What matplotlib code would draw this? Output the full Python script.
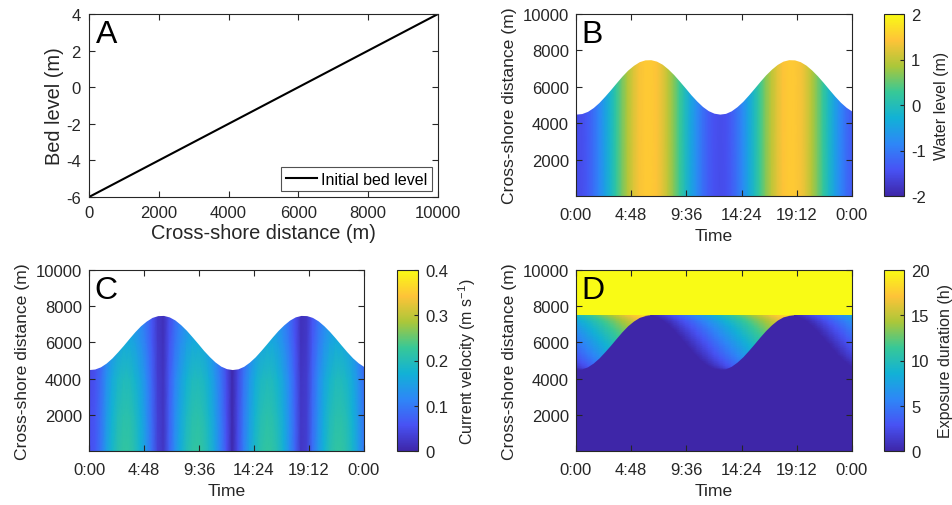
import numpy as np
import matplotlib
matplotlib.use('Agg')
import matplotlib.pyplot as plt
from matplotlib.colors import LinearSegmentedColormap

plt.rcParams['font.family'] = ['Liberation Sans', 'DejaVu Sans']
plt.rcParams['mathtext.fontset'] = 'custom'
plt.rcParams['mathtext.rm'] = 'Liberation Sans'
plt.rcParams['mathtext.it'] = 'Liberation Sans:italic'
plt.rcParams['axes.unicode_minus'] = False

TXT = '#262626'

# MATLAB parula, sampled at 8 points
parula = LinearSegmentedColormap.from_list('parula', [
    (0.2422, 0.1504, 0.6603), (0.2810, 0.3228, 0.9579),
    (0.1786, 0.5289, 0.9682), (0.0689, 0.6948, 0.8394),
    (0.2161, 0.7843, 0.5923), (0.6720, 0.7793, 0.2227),
    (0.9970, 0.7659, 0.2199), (0.9769, 0.9839, 0.0805)])

# panel A: initial profile
bed_x = [0, 10000]
bed_z = [-6, 4]

hours = np.arange(0, 24.01, 0.5)
water_level = [-1.50, -1.47, -1.35, -1.14, -0.86, -0.52, -0.16, 0.22, 0.59, 0.92,
               1.18, 1.38, 1.48, 1.49, 1.41, 1.24, 0.98, 0.67, 0.31, -0.06,
               -0.44, -0.78, -1.08, -1.31, -1.45, -1.50, -1.46, -1.32, -1.09, -0.80,
               -0.45, -0.08, 0.30, 0.66, 0.97, 1.23, 1.41, 1.49, 1.48, 1.38,
               1.19, 0.92, 0.60, 0.24, -0.14, -0.51, -0.85, -1.13, -1.34]
current_speed = [0.05, 0.06, 0.09, 0.137, 0.172, 0.197, 0.209, 0.208, 0.193, 0.166,
                 0.129, 0.084, 0.033, 0.02, 0.071, 0.119, 0.158, 0.188, 0.205, 0.21,
                 0.201, 0.179, 0.146, 0.103, 0.054, 0.004, 0.048, 0.10, 0.144, 0.178,
                 0.20, 0.21, 0.206, 0.189, 0.16, 0.121, 0.074, 0.022, 0.031, 0.083,
                 0.128, 0.165, 0.193, 0.207, 0.209, 0.197, 0.173, 0.138, 0.094]
speed_x = [0, 2000, 4000, 6000, 8000]
speed_factor = [1.05, 1.0, 0.93, 0.78, 0.68]

# panel D
tide_period = 12.42
exposure_rate = 1.6
flood_limit = 7500

time_ticks = [0, 4.8, 9.6, 14.4, 19.2, 24]
time_labels = ['0:00', '4:48', '9:36', '14:24', '19:12', '0:00']

W, H = 952, 506
fig = plt.figure(figsize=(W / 100, H / 100), dpi=100)


def px_axes(l, t, r, b):
    return fig.add_axes([l / W, 1 - b / H, (r - l) / W, (b - t) / H])


def style(ax, pad=5):
    ax.tick_params(direction='in', top=True, right=True, length=4.5, width=0.8,
                   labelsize=12, colors=TXT, pad=pad)
    for s in ax.spines.values():
        s.set_color(TXT)
        s.set_linewidth(0.8)


def letter(ax, s):
    ax.text(0.02, 0.975, s, transform=ax.transAxes, va='top', ha='left',
            fontsize=23, color='black', zorder=5)


def cbar(pm, box, ticks, label):
    cax = px_axes(*box)
    cb = fig.colorbar(pm, cax=cax, ticks=ticks, format='%g')
    cb.outline.set_edgecolor(TXT)
    cb.outline.set_linewidth(0.8)
    cax.tick_params(direction='in', length=3, width=0.8, labelsize=12,
                    colors=TXT, pad=5)
    cb.set_label(label, fontsize=11.5, color=TXT, labelpad=6)
    return cb


def time_axes(ax):
    ax.set_xlim(0, 24)
    ax.set_ylim(0, 10000)
    ax.set_xticks(time_ticks)
    ax.set_xticklabels(time_labels)
    ax.set_yticks([2000, 4000, 6000, 8000, 10000])
    ax.set_xlabel('Time', fontsize=12.6, color=TXT, labelpad=4)
    ax.set_ylabel('Cross-shore distance (m)', fontsize=12.6, color=TXT, labelpad=4)
    style(ax, pad=8)
    ax.tick_params(axis='y', pad=5)


shore = np.interp(water_level, bed_z, bed_x)

# A
axA = px_axes(89, 15, 438, 198)
axA.plot(bed_x, bed_z, color='black', lw=1.5, label='Initial bed level')
axA.set_xlim(0, 10000)
axA.set_ylim(-6, 4)
axA.set_xticks(range(0, 10001, 2000))
axA.set_yticks(range(-6, 5, 2))
axA.set_xlabel('Cross-shore distance (m)', fontsize=14.4, color=TXT, labelpad=2)
axA.set_ylabel('Bed level (m)', fontsize=14.4, color=TXT, labelpad=1)
style(axA, pad=6)
leg = axA.legend(loc='lower right', fontsize=11.5, fancybox=False, handlelength=1.9,
                 borderpad=0.3, handletextpad=0.3, borderaxespad=0.35)
leg.get_frame().set_edgecolor(TXT)
leg.get_frame().set_linewidth(0.8)
letter(axA, 'A')

# B: water level
axB = px_axes(576, 15, 852, 197)
pmB = axB.pcolormesh(hours, [0, 10000], np.tile(water_level, (2, 1)),
                     shading='gouraud', cmap=parula, vmin=-2, vmax=2)
axB.fill_between(hours, shore, 10000, color='white', lw=0)
time_axes(axB)
letter(axB, 'B')
cbar(pmB, (884, 15, 904, 197), [-2, -1, 0, 1, 2], 'Water level (m)')

# C: current velocity
axC = px_axes(89, 271, 364, 452)
speed = np.outer(speed_factor, current_speed)
pmC = axC.pcolormesh(hours, speed_x, speed, shading='gouraud', cmap=parula,
                     vmin=0, vmax=0.4)
axC.fill_between(hours, shore, 10000, color='white', lw=0)
time_axes(axC)
letter(axC, 'C')
cbar(pmC, (397, 271, 418, 452), [0, 0.1, 0.2, 0.3, 0.4],
     r'Current velocity (m s$^{\mathrm{-1}}$)')

# D: exposure duration
axD = px_axes(576, 271, 852, 452)
xg = np.arange(0, flood_limit + 1, 100)
i_hw = int(np.argmax(water_level[:25]))
i_lw = i_hw + int(np.argmin(water_level[i_hw:i_hw + 25]))
t_hw = hours[i_hw]
fall = slice(i_hw, i_lw + 1)
t_dry = np.interp(xg, shore[fall][::-1], hours[fall][::-1])
tau = (hours - t_hw) % tide_period
expo = (tau[None, :] - (t_dry - t_hw)[:, None]) * exposure_rate
pmD = axD.pcolormesh(hours, xg, expo, shading='gouraud', cmap=parula, vmin=0, vmax=20)
axD.fill_between(hours, 0, shore, color=parula(0.0), lw=0)
axD.axhspan(flood_limit, 10000, color=parula(1.0), lw=0)
time_axes(axD)
letter(axD, 'D')
cbar(pmD, (884, 271, 904, 452), [0, 5, 10, 15, 20], 'Exposure duration (h)')

fig.savefig('out.png', dpi=100)
